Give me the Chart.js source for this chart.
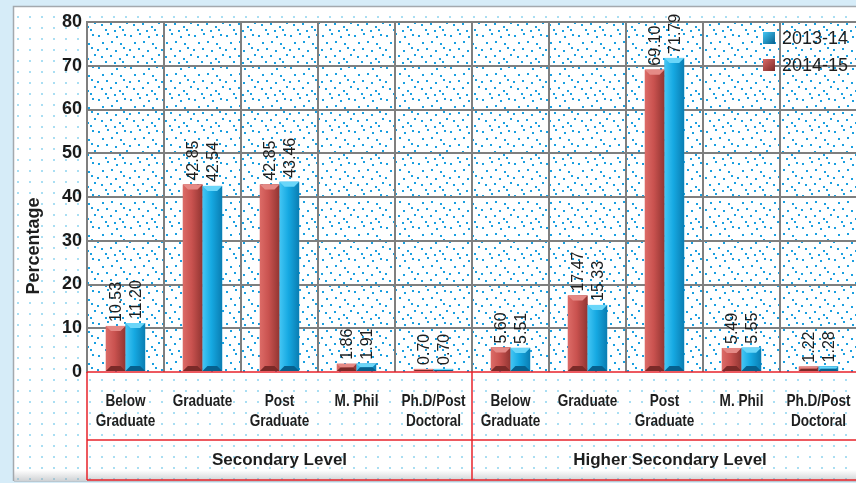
<!DOCTYPE html>
<html>
<head>
<meta charset="utf-8">
<script src="https://cdn.jsdelivr.net/npm/chart.js@4.4.1/dist/chart.umd.min.js"></script>
<style>
  html, body { margin: 0; padding: 0; overflow: hidden; background: #d6ecf8; }
  #wrap { position: relative; width: 858px; height: 483px; }
</style>
</head>
<body>
<div id="wrap"><canvas id="chart" width="858" height="483"></canvas></div>
<script>
// data
const categories = [
  ['Below', 'Graduate'], ['Graduate'], ['Post', 'Graduate'], ['M. Phil'], ['Ph.D/Post', 'Doctoral'],
  ['Below', 'Graduate'], ['Graduate'], ['Post', 'Graduate'], ['M. Phil'], ['Ph.D/Post', 'Doctoral']
];
const groups = ['Secondary Level', 'Higher Secondary Level'];
const groupSize = 5;
const values2014_15 = [10.53, 42.85, 42.85, 1.86, 0.70, 5.60, 17.47, 69.10, 5.49, 1.22];
const values2013_14 = [11.20, 42.54, 43.46, 1.91, 0.70, 5.51, 15.33, 71.79, 5.55, 1.28];
const yTicks = [0, 10, 20, 30, 40, 50, 60, 70, 80];

const RED = { base: '#c9524f', light: '#dc6b67', dark: '#913532', top: '#e58a86', bottom: '#7a2a28' };
const BLUE = { base: '#16a9e2', light: '#44c6f4', dark: '#0a7db2', top: '#6ad6f9', bottom: '#07608d' };
const FONT = '"Liberation Sans", Arial, sans-serif';

function makePattern(w, h, color, dots, size) {
    const c = document.createElement('canvas');
    c.width = w; c.height = h;
    const g = c.getContext('2d');
    g.fillStyle = '#ffffff';
    g.fillRect(0, 0, w, h);
    g.fillStyle = color;
    dots.forEach(d => g.fillRect(d[0], d[1], size, size));
    return g.createPattern(c, 'repeat');
}

const ctx = document.getElementById('chart').getContext('2d');
const panelPattern = makePattern(12, 11, '#a9def3', [[5, 5]], 2);
const plotPattern = makePattern(32, 32, '#1a9fe0', [
    [2, 3], [11, 1], [20, 4], [28, 2], [6, 10], [15, 9], [24, 11], [1, 17],
    [10, 16], [19, 18], [27, 15], [5, 24], [14, 23], [23, 26], [30, 22], [9, 29], [18, 30], [26, 29]
], 2);

// draws text squeezed horizontally, the reference uses a narrow face
function narrowText(c, s, x, y, k) {
    c.save();
    c.translate(x, y);
    c.scale(k, 1);
    c.fillText(s, 0, 0);
    c.restore();
}

const decorPlugin = {
    id: 'decor',
    beforeDraw(chart) {
        const c = chart.ctx, a = chart.chartArea;
        c.save();
        c.fillStyle = '#d6ecf8';
        c.fillRect(0, 0, chart.width, chart.height);
        // inner panel
        c.fillStyle = panelPattern;
        c.fillRect(13, 6, chart.width - 13, 475);
        c.strokeStyle = '#a3a9ae';
        c.lineWidth = 1.5;
        c.beginPath();
        c.moveTo(13.5, 481); c.lineTo(13.5, 6.5); c.lineTo(chart.width, 6.5);
        c.stroke();
        const sh = c.createLinearGradient(0, 470, 0, 482);
        sh.addColorStop(0, 'rgba(160,165,170,0)');
        sh.addColorStop(1, 'rgba(160,165,170,0.55)');
        c.fillStyle = sh;
        c.fillRect(14, 470, chart.width - 14, 12);
        // plot area
        c.fillStyle = plotPattern;
        c.fillRect(a.left, a.top, a.right - a.left, a.bottom - a.top);
        c.restore();
    },
    afterDatasetsDraw(chart) {
        const c = chart.ctx;
        c.save();
        chart.data.datasets.forEach((ds, di) => {
            const pal = di === 0 ? RED : BLUE;
            chart.getDatasetMeta(di).data.forEach((bar, i) => {
                const p = bar.getProps(['x', 'y', 'base', 'width'], true);
                const l = p.x - p.width / 2, r = p.x + p.width / 2, t = p.y, b = p.base;
                const h = b - t;
                const g = c.createLinearGradient(l, 0, r, 0);
                g.addColorStop(0, pal.light);
                g.addColorStop(0.45, pal.base);
                g.addColorStop(1, pal.dark);
                c.fillStyle = g;
                c.fillRect(l, t, r - l, h);
                const bv = Math.min(5, h / 2, p.width / 2);
                c.fillStyle = pal.top;
                c.beginPath();
                c.moveTo(l, t); c.lineTo(r, t); c.lineTo(r - bv, t + bv); c.lineTo(l + bv, t + bv);
                c.closePath(); c.fill();
                c.fillStyle = pal.bottom;
                c.beginPath();
                c.moveTo(l, b); c.lineTo(r, b); c.lineTo(r - bv, b - bv); c.lineTo(l + bv, b - bv);
                c.closePath(); c.fill();
                // value label, rotated
                c.save();
                c.translate(p.x + 1, t - 4);
                c.rotate(-Math.PI / 2);
                c.fillStyle = '#1e1e1e';
                c.font = '16px ' + FONT;
                c.textAlign = 'left';
                c.textBaseline = 'middle';
                c.fillText(ds.data[i].toFixed(2), 0, 0);
                c.restore();
            });
        });
        c.restore();
    },
    afterDraw(chart) {
        const c = chart.ctx, a = chart.chartArea, x = chart.scales.x;
        const rowTop = a.bottom, rowMid = 440, rowBot = 480;
        c.save();
        // category labels
        c.fillStyle = '#1e1e1e';
        c.textAlign = 'center';
        c.textBaseline = 'middle';
        c.font = 'bold 17px ' + FONT;
        categories.forEach((lines, i) => {
            const cx = x.getPixelForValue(i);
            lines.forEach((s, k) => narrowText(c, s, cx, 401 + k * 20, 0.8));
        });
        // group labels
        c.font = 'bold 17px ' + FONT;
        const step = x.getPixelForValue(1) - x.getPixelForValue(0);
        groups.forEach((s, gi) => {
            const left = x.getPixelForValue(gi * groupSize) - step / 2;
            const right = x.getPixelForValue(gi * groupSize + groupSize - 1) + step / 2;
            c.fillText(s, (left + Math.min(right, 856)) / 2 + (gi === 1 ? 6 : 0), 460);
        });
        // red table lines
        c.strokeStyle = '#e8232b';
        c.lineWidth = 1.5;
        const divX = x.getPixelForValue(groupSize) - step / 2;
        c.beginPath();
        c.moveTo(a.left, rowTop); c.lineTo(chart.width, rowTop);
        c.moveTo(a.left, rowMid); c.lineTo(chart.width, rowMid);
        c.moveTo(a.left, rowBot); c.lineTo(chart.width, rowBot);
        c.moveTo(a.left, rowTop); c.lineTo(a.left, rowBot);
        c.moveTo(divX, rowTop); c.lineTo(divX, rowBot);
        c.stroke();
        // y title
        c.save();
        c.translate(34, 246);
        c.rotate(-Math.PI / 2);
        c.font = 'bold 18px ' + FONT;
        c.fillText('Percentage', 0, 0);
        c.restore();
        // legend, 2013-14 first
        const items = [chart.data.datasets[1], chart.data.datasets[0]];
        c.font = '18px ' + FONT;
        c.textAlign = 'left';
        items.forEach((ds, k) => {
            const pal = ds === chart.data.datasets[0] ? RED : BLUE;
            const y = 38 + k * 27;
            const g = c.createLinearGradient(763, y - 6, 775, y + 6);
            g.addColorStop(0, pal.light);
            g.addColorStop(1, pal.bottom);
            c.fillStyle = g;
            c.fillRect(763, y - 6, 12, 12);
            c.fillStyle = '#1e1e1e';
            c.fillText(ds.label, 782, y + 1);
        });
        c.restore();
    }
};

new Chart(ctx, {
    type: 'bar',
    data: {
        labels: categories,
        datasets: [
            { label: '2014-15', data: values2014_15, backgroundColor: RED.base },
            { label: '2013-14', data: values2013_14, backgroundColor: BLUE.base }
        ]
    },
    options: {
        responsive: false,
        animation: false,
        devicePixelRatio: 1,
        layout: { padding: { left: 0, right: 1, top: 22, bottom: 0 } },
        datasets: { bar: { categoryPercentage: 0.51, barPercentage: 1 } },
        plugins: { legend: { display: false }, tooltip: { enabled: false } },
        scales: {
            x: {
                offset: true,
                grid: { offset: true, color: '#7f7f7f', lineWidth: 2, drawTicks: false },
                border: { display: false },
                ticks: { display: false },
                afterFit(s) { s.height = 111; }
            },
            y: {
                min: yTicks[0],
                max: yTicks[yTicks.length - 1],
                afterBuildTicks(s) { s.ticks = yTicks.map(v => ({ value: v })); },
                grid: { color: ctx => ctx.tick.value === 0 ? 'rgba(0,0,0,0)' : '#7f7f7f', lineWidth: 2, drawTicks: false },
                border: { display: true, color: '#7f7f7f', width: 2 },
                ticks: { padding: 5, color: '#1a1a1a', font: { family: FONT, size: 18, weight: 'bold' } },
                afterFit(s) { s.width = 87; }
            }
        }
    },
    plugins: [decorPlugin]
});
</script>
</body>
</html>
